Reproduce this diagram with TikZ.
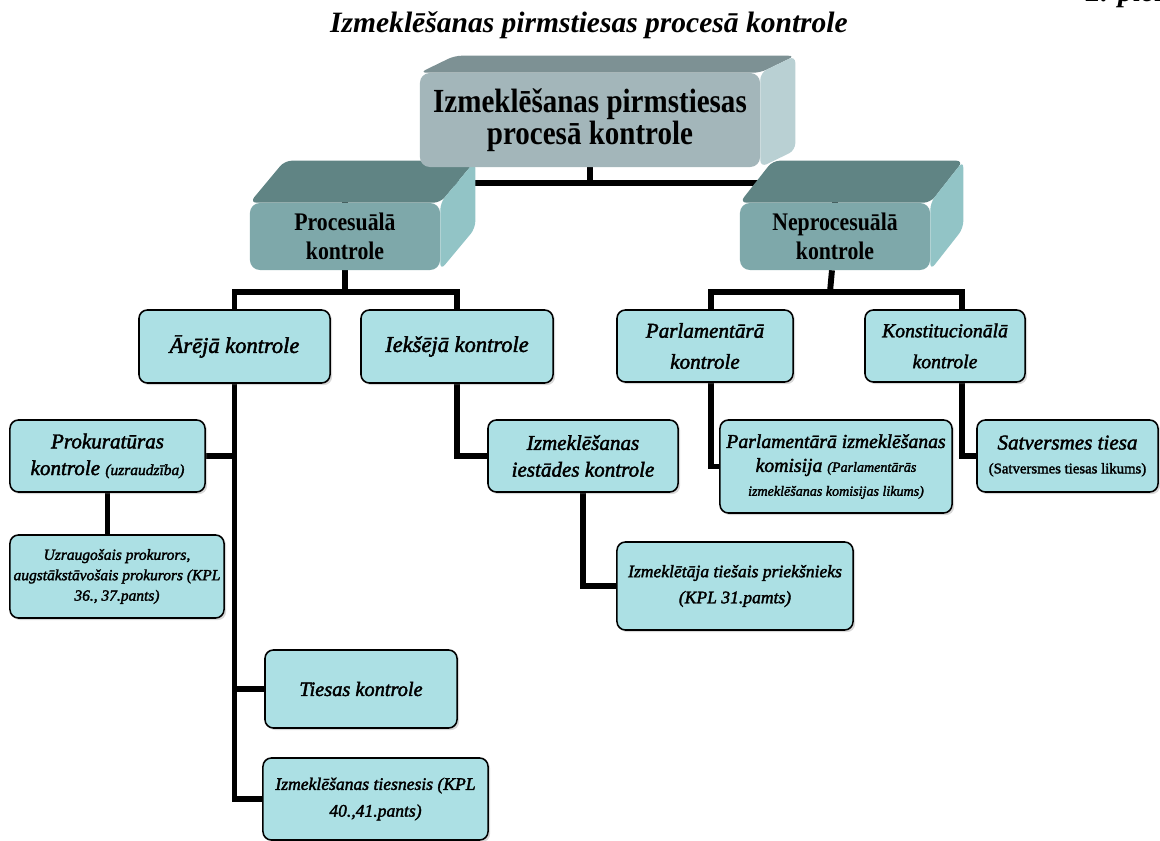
\documentclass[tikz,border=0pt]{standalone}
\usepackage{fontspec}
\setmainfont{Liberation Serif}
\newfontfamily\condfont[FakeStretch=0.86]{Liberation Serif}
\newfontfamily\leaffont[FakeBold=2]{Liberation Serif}
\usetikzlibrary{positioning,calc,backgrounds,shadows}
\pgfdeclarelayer{back}
\pgfsetlayers{back,background,main}
\definecolor{leaffill}{RGB}{172,224,228}
\definecolor{rootfront}{RGB}{163,182,186}
\definecolor{roottop}{RGB}{125,145,148}
\definecolor{rootside}{RGB}{185,208,211}
\definecolor{midfront}{RGB}{126,168,170}
\definecolor{midtop}{RGB}{96,132,132}
\definecolor{midside}{RGB}{146,196,198}
\newcommand{\fs}[1]{\fontsize{#1}{1.2\dimexpr#1pt\relax}\selectfont}

\begin{document}
\begin{tikzpicture}[x=0.025cm, y=-0.025cm,
  every node/.style={align=center, inner sep=2pt},
  leaf/.style={rectangle, rounded corners=6pt, draw=black, line width=1.1pt, fill=leaffill,
    drop shadow={shadow xshift=1.5pt, shadow yshift=-1.5pt, opacity=0.3}},
  block/.style={rectangle, rounded corners=7pt},
  link/.style={line width=4.2pt, black}
]
  \useasboundingbox (0,0) rectangle (1160,841);

  \node[font=\bfseries\itshape\fs{21}] (title) at (589,25) {Izmeklēšanas pirmstiesas procesā kontrole};
  \node[font=\bfseries\itshape\fs{21}, anchor=base west] (app) at (1083,2) {2. piel.};

  % 3D blocks
  \node[block, fill=rootfront, minimum width=8.5cm, minimum height=2.35cm,
    font=\condfont\bfseries\fontsize{24}{23}\selectfont] (root) at (590,120) {Izmeklēšanas pirmstiesas\\procesā kontrole};
  \node[block, fill=midfront, minimum width=4.75cm, minimum height=1.675cm,
    font=\condfont\bfseries\fontsize{18}{21}\selectfont] (proc) at (345,236.5) {Procesuālā\\kontrole};
  \node[block, fill=midfront, minimum width=4.75cm, minimum height=1.675cm,
    font=\condfont\bfseries\fontsize{18}{21}\selectfont] (neproc) at (835,236.5) {Neprocesuālā\\kontrole};

  \begin{pgfonlayer}{background}
  \foreach \n/\ox/\oy/\ctop/\cside in {root/35/-17/roottop/rootside, proc/35/-42/midtop/midside, neproc/33/-42/midtop/midside} {
    \fill[\ctop, rounded corners=5pt] (\n.north west) -- ++(\ox,\oy) -- ($(\n.north east)+(\ox,\oy)$) -- (\n.north east) -- cycle;
    \fill[\cside, rounded corners=5pt] (\n.north east) -- ++(\ox,\oy) -- ($(\n.south east)+(\ox,\oy)$) -- (\n.south east) -- cycle;
  }
  \end{pgfonlayer}

  % second level
  \node[leaf, minimum width=4.775cm, minimum height=1.825cm, font=\leaffont\itshape\fs{16}] (arej) at (234.5,346.5) {Ārējā kontrole};
  \node[leaf, minimum width=4.8cm, minimum height=1.825cm, font=\leaffont\itshape\fs{16}] (ieks) at (457,346.5) {Iekšējā kontrole};
  \node[leaf, minimum width=4.4cm, minimum height=1.8cm, font=\leaffont\itshape\fontsize{15}{22}\selectfont] (parl) at (705,346) {Parlamentārā\\kontrole};
  \node[leaf, minimum width=4cm, minimum height=1.8cm, font=\leaffont\itshape\fontsize{14}{22}\selectfont] (konst) at (945,346) {Konstitucionālā\\kontrole};

  % leaves
  \node[leaf, minimum width=4.875cm, minimum height=1.8cm, font=\leaffont\itshape\fontsize{15}{19}\selectfont] (prok) at (107.5,456)
    {Prokuratūras\\kontrole {\fs{11}(uzraudzība)}};
  \node[leaf, minimum width=5.35cm, minimum height=2.075cm, font=\leaffont\itshape\fontsize{11}{14.5}\selectfont] (uzr) at (117,576.5)
    {Uzraugošais prokurors,\\augstākstāvošais prokurors (KPL\\36., 37.pants)};
  \node[leaf, minimum width=4.8cm, minimum height=1.95cm, font=\leaffont\itshape\fs{14.5}] (tiesas) at (361,689) {Tiesas kontrole};
  \node[leaf, minimum width=5.625cm, minimum height=2.05cm, font=\leaffont\itshape\fontsize{12.5}{19}\selectfont] (tiesn) at (375.5,799)
    {Izmeklēšanas tiesnesis (KPL\\40.,41.pants)};
  \node[leaf, minimum width=4.75cm, minimum height=1.8cm, font=\leaffont\itshape\fontsize{15}{19}\selectfont] (iest) at (583,456)
    {Izmeklēšanas\\iestādes kontrole};
  \node[leaf, minimum width=5.9cm, minimum height=2.2cm, font=\leaffont\itshape\fontsize{12.5}{18.5}\selectfont] (izml) at (735,586)
    {Izmeklētāja tiešais priekšnieks\\(KPL 31.pamts)};
  \node[leaf, minimum width=5.8cm, minimum height=2.325cm, font=\leaffont\itshape\fontsize{14}{17}\selectfont] (komis) at (836,466.5)
    {Parlamentārā izmeklēšanas\\komisija {\fs{10}(Parlamentārās}\\{\fs{10}izmeklēšanas komisijas likums)}};
  \node[leaf, minimum width=4.525cm, minimum height=1.8cm, font=\leaffont\itshape\fontsize{15}{17}\selectfont] (satv) at (1067.5,456)
    {Satversmes tiesa\\{\upshape\fs{10.5}(Satversmes tiesas likums)}};

  % connectors
  \begin{pgfonlayer}{back}
  \coordinate (j0) at (590,183);
  \coordinate (j1) at (345,292);
  \coordinate (j2) at (830,292);
  \coordinate (kd) at (962,383);
  \coordinate (pd) at (711,383);
  \draw[link] (root) -- (j0);
  \draw[link] (proc) |- (j0) -| (neproc);
  \draw[link] (proc) -- (j1);
  \draw[link] (arej) |- (j1) -| (ieks);
  \draw[link] (neproc) -- (j2);
  \draw[link] (pd) |- (j2) -| (kd);
  \draw[link] (arej) |- (tiesn);
  \draw[link] (prok) -- (prok -| arej);
  \draw[link] (tiesas) -- (tiesas -| arej);
  \draw[link] (prok) -- (prok |- uzr);
  \draw[link] (ieks) |- (iest);
  \draw[link] (iest) |- (izml);
  \draw[link] (pd) |- (komis);
  \draw[link] (kd) |- (satv);
  \end{pgfonlayer}
\end{tikzpicture}
\end{document}
